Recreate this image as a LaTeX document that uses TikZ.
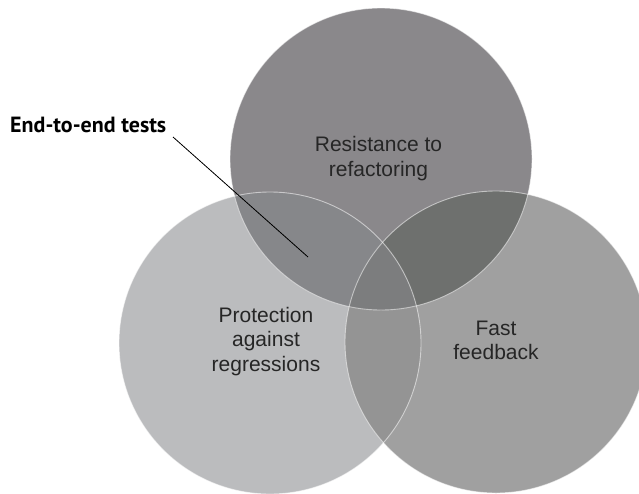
\documentclass[tikz,border=0pt]{standalone}
\usepackage{fontspec}
\setmainfont{Liberation Sans}
\newfontfamily\labelfont{PT Sans}
\definecolor{cTop}{HTML}{8A888B}
\definecolor{cLeft}{HTML}{BBBCBE}
\definecolor{cRight}{HTML}{A0A0A0}
\definecolor{cTL}{HTML}{86878A}
\definecolor{cTR}{HTML}{6E706E}
\definecolor{cLR}{HTML}{949494}
\definecolor{cTLR}{HTML}{7C7D7E}
\definecolor{txt}{HTML}{262626}
\tikzset{
  rim/.style={draw=white, draw opacity=0.55, line width=0.9pt},
  vtext/.style={text=txt, align=center, inner sep=0pt,
    font=\fontsize{21pt}{24.5pt}\selectfont},
  leader/.style={draw=black, line width=0.8pt}
}
\begin{document}
\begin{tikzpicture}[x=1pt,y=-1pt]
\useasboundingbox (0,0) rectangle (639,493);
\clip (0,0) rectangle (639,493);
\def\rr{151}
\coordinate (cT) at (381,159);
\coordinate (cL) at (270,343);
\coordinate (cR) at (496,342);
% base discs
\fill[cLeft]  (cL) circle[radius=\rr];
\fill[cRight] (cR) circle[radius=\rr];
\fill[cTop]   (cT) circle[radius=\rr];
% left-right lens
\begin{scope}
  \clip (cL) circle[radius=\rr];
  \fill[cLR] (cR) circle[radius=\rr];
\end{scope}
% overlaps with the top disc
\begin{scope}
  \clip (cT) circle[radius=\rr];
  \fill[cTL] (cL) circle[radius=\rr];
  \fill[cTR] (cR) circle[radius=\rr];
  \clip (cL) circle[radius=\rr];
  \fill[cTLR] (cR) circle[radius=\rr];
\end{scope}
% light rims
\draw[rim] (cL) circle[radius=\rr];
\draw[rim] (cR) circle[radius=\rr];
\draw[rim] (cT) circle[radius=\rr];
% texts
\node[vtext] (res) at (378.5,158.5) {Resistance to\\refactoring};
\node[vtext] (pro) at (266,341.5) {Protection\\against\\regressions};
\node[vtext] (fast) at (496,340.5) {Fast\\feedback};
% label
\node[anchor=base west, inner sep=0pt, text=black] (lbl) at (10,132)
  {\resizebox{156pt}{!}{\labelfont\bfseries End-to-end tests}};
\coordinate (lstart) at (173,137);
\coordinate (lend) at (308,257);
\draw[leader] (lstart) -- (lend);
\end{tikzpicture}
\end{document}
